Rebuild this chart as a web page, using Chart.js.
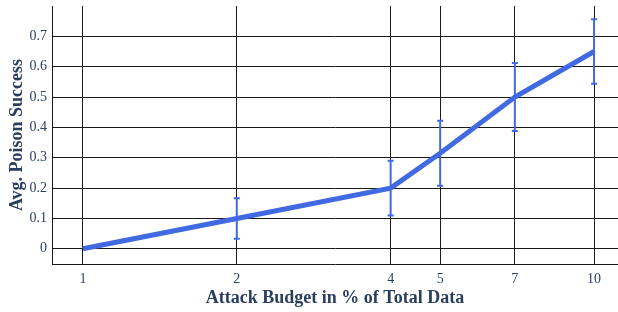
<!DOCTYPE html>
<html>
<head>
<meta charset="utf-8">
<script src="https://cdn.jsdelivr.net/npm/chart.js@4/dist/chart.umd.min.js"></script>
<style>
  html, body { margin: 0; padding: 0; background: #fff; }
  #wrap { width: 618px; height: 312px; }
</style>
</head>
<body>
<div id="wrap"><canvas id="chartPoison"></canvas></div>
<script>
// attack budget (% of total data) on a log axis
const budgets = [1, 2, 4, 5, 7, 10];
const avgSuccess = [0, 0.1, 0.2, 0.315, 0.5, 0.65];
const errSuccess = [0, 0.067, 0.09, 0.107, 0.112, 0.106];
const yTicks = [0, 0.1, 0.2, 0.3, 0.4, 0.5, 0.6, 0.7];

const lineColor = '#4169e1';
const textColor = '#2a3f5f';
const gridColor = '#1a1a1a';

const errorBars = {
    id: 'errorBars',
    afterDatasetsDraw(chart) {
        const ctx = chart.ctx;
        const x = chart.scales.x, y = chart.scales.y;
        ctx.save();
        ctx.strokeStyle = lineColor;
        ctx.lineWidth = 2;
        budgets.forEach((b, i) => {
            if (!errSuccess[i]) return;
            const px = x.getPixelForValue(b);
            const top = y.getPixelForValue(avgSuccess[i] + errSuccess[i]);
            const bot = y.getPixelForValue(avgSuccess[i] - errSuccess[i]);
            ctx.beginPath();
            ctx.moveTo(px, top); ctx.lineTo(px, bot);
            ctx.moveTo(px - 3, top); ctx.lineTo(px + 3, top);
            ctx.moveTo(px - 3, bot); ctx.lineTo(px + 3, bot);
            ctx.stroke();
        });
        ctx.restore();
    }
};

new Chart(document.getElementById('chartPoison'), {
    type: 'line',
    data: {
        datasets: [{
            data: budgets.map((b, i) => ({ x: b, y: avgSuccess[i] })),
            borderColor: lineColor,
            borderWidth: 5,
            pointRadius: 0,
            tension: 0
        }]
    },
    options: {
        responsive: true,
        maintainAspectRatio: false,
        animation: false,
        layout: { padding: { top: 6, left: 0, right: 0, bottom: 0 } },
        plugins: { legend: { display: false }, tooltip: { enabled: false } },
        scales: {
            x: {
                type: 'logarithmic',
                min: 0.87,
                max: 11.14,
                afterBuildTicks: s => { s.ticks = budgets.map(v => ({ value: v })); },
                afterFit: s => { s.height = 48; s.paddingLeft = 0; s.paddingRight = 0; },
                ticks: {
                    autoSkip: false, maxRotation: 0, padding: 7,
                    color: textColor,
                    font: { family: 'Liberation Serif', size: 14 },
                    callback: v => String(v)
                },
                grid: { color: gridColor, lineWidth: 1, drawTicks: false },
                border: { color: gridColor, width: 1 },
                title: {
                    display: true,
                    text: 'Attack Budget in % of Total Data',
                    color: textColor,
                    font: { family: 'Liberation Serif', size: 18, weight: 'bold' },
                    padding: { top: 0, bottom: 3 }
                }
            },
            y: {
                min: -0.05,
                max: 0.8,
                afterBuildTicks: s => { s.ticks = yTicks.map(v => ({ value: v })); },
                afterFit: s => { s.width = 52; s.paddingTop = 0; s.paddingBottom = 0; },
                ticks: {
                    padding: 5,
                    color: textColor,
                    font: { family: 'Liberation Serif', size: 14 },
                    callback: v => v === 0 ? '0' : v.toFixed(1)
                },
                grid: { color: gridColor, lineWidth: 1, drawTicks: false },
                border: { color: gridColor, width: 1 },
                title: {
                    display: true,
                    text: 'Avg. Poison Success',
                    color: textColor,
                    font: { family: 'Liberation Serif', size: 18, weight: 'bold' },
                    padding: { top: 7, bottom: 0 }
                }
            }
        }
    },
    plugins: [errorBars]
});
</script>
</body>
</html>
